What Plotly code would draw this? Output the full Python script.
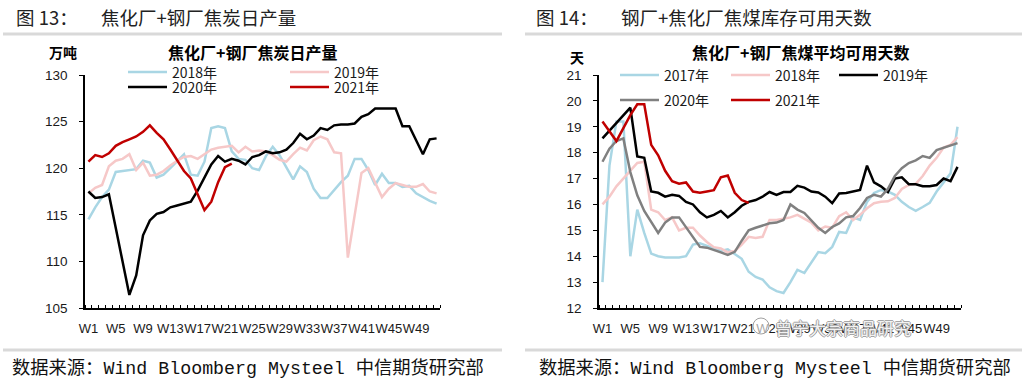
import plotly.graph_objects as go

W, H = 1028, 383

# ---------------- data ----------------
weeks = list(range(1, 53))
week_tick_vals = [1, 5, 9, 13, 17, 21, 25, 29, 33, 37, 41, 45, 49]
week_tick_labels = ["W1", "W5", "W9", "W13", "W17", "W21", "W25", "W29", "W33", "W37", "W41", "W45", "W49"]

# Left chart: coke daily output (万吨)
coke_2018 = [114.5, 115.8, 116.9, 117.7, 119.6, 119.7, 119.8, 119.9, 120.8, 120.6, 119.0, 119.3, 120.0,
             120.7, 121.5, 119.3, 119.2, 120.7, 124.3, 124.5, 124.3, 121.8, 121.0, 120.9, 120.0, 119.8,
             121.3, 122.3, 121.4, 120.1, 118.8, 120.2, 119.6, 117.8, 116.8, 116.8, 117.7, 118.5, 119.2,
             121.0, 121.0, 119.8, 118.2, 119.4, 118.4, 118.4, 118.0, 118.1, 117.3, 116.9, 116.5, 116.2]
coke_2019 = [117.3, 117.9, 118.2, 120.2, 120.8, 121.0, 121.5, 119.8, 120.6, 119.2, 119.3, 119.7, 120.3,
             120.8, 121.2, 121.3, 121.0, 121.5, 122.0, 122.2, 122.3, 122.4, 121.7, 122.3, 121.8, 121.9,
             121.8, 121.4, 120.9, 120.7, 121.5, 122.2, 121.9, 123.0, 123.4, 123.1, 121.7, 121.6, 110.4,
             115.0, 119.5, 120.0, 118.5, 116.9, 117.8, 118.4, 118.2, 118.0, 118.0, 118.3, 117.5, 117.3]
coke_2020 = [117.5, 116.8, 116.9, 117.2, 113.6, 110.0, 106.4, 108.5, 112.8, 114.4, 115.1, 115.3, 115.8,
             116.0, 116.2, 116.4, 117.6, 119.0, 120.4, 121.3, 120.7, 121.0, 120.8, 120.4, 121.2, 121.4,
             121.8, 121.6, 121.7, 122.0, 122.7, 123.7, 123.1, 123.5, 124.3, 124.1, 124.6, 124.7, 124.7,
             124.8, 125.5, 125.8, 126.4, 126.4, 126.4, 126.4, 124.5, 124.5, 123.0, 121.5, 123.1, 123.2]
coke_2021 = [120.7, 121.4, 121.2, 121.6, 122.4, 122.8, 123.1, 123.4, 123.9, 124.6, 123.8, 123.1, 122.0,
             120.9, 119.7, 118.9, 117.2, 115.5, 116.4, 118.5, 120.1, 120.5]

# Right chart: coking coal available days (天)
days_2017 = [13.0, 17.5, 19.2, 19.2, 14.0, 15.8, 14.9, 14.1, 14.0, 13.95, 13.95, 13.95, 14.0, 14.45,
             14.5, 14.4, 14.3, 14.2, 14.27, 14.1, 13.9, 13.4, 13.2, 13.1, 12.8, 12.65, 12.58, 13.0,
             13.47, 13.35, 13.75, 14.16, 14.12, 14.36, 14.94, 14.9, 15.5, 15.4, 16.1, 16.44, 16.56,
             16.5, 16.37, 16.1, 15.9, 15.75, 15.9, 16.06, 16.5, 16.87, 17.2, 19.0]
days_2018 = [16.0, 16.3, 16.7, 17.0, 17.3, 17.6, 17.65, 15.8, 15.7, 15.4, 15.5, 15.0, 15.1, 15.1, 14.8,
             14.55, 14.35, 14.3, 14.15, 14.2, 14.45, 14.75, 14.7, 14.75, 15.4, 15.4, 15.45, 15.5, 15.6,
             15.45, 15.3, 15.0, 15.15, 15.1, 15.55, 15.7, 15.4, 15.6, 15.85, 16.05, 16.1, 16.12, 16.25,
             16.6, 16.75, 16.8, 17.1, 17.5, 17.8, 18.2, 18.3, 18.6]
days_2019 = [18.55, 18.85, 19.15, 19.45, 19.74, 17.85, 17.8, 16.5, 16.45, 16.3, 16.37, 16.33, 16.1, 16.0,
             15.7, 15.5, 15.6, 15.75, 15.5, 15.7, 15.95, 16.1, 16.17, 16.3, 16.48, 16.37, 16.48, 16.48,
             16.72, 16.65, 16.5, 16.46, 16.3, 16.05, 16.42, 16.44, 16.5, 16.56, 17.5, 16.85, 16.7, 16.48,
             17.0, 17.05, 16.78, 16.78, 16.7, 16.7, 16.75, 17.0, 16.9, 17.45]
days_2020 = [17.65, 18.15, 18.45, 18.55, 17.25, 16.35, 15.75, 15.3, 14.9, 15.3, 15.5, 15.5, 15.13, 14.75,
             14.36, 14.33, 14.25, 14.15, 14.05, 14.17, 14.6, 15.0, 15.1, 15.2, 15.27, 15.3, 15.4, 16.0,
             15.8, 15.67, 15.4, 15.1, 14.9, 15.13, 15.27, 15.5, 15.55, 15.86, 16.25, 16.37, 16.3, 16.6,
             17.1, 17.4, 17.6, 17.7, 17.87, 17.8, 18.1, 18.2, 18.3, 18.37]
days_2021 = [19.2, 18.8, 18.45, 18.95, 19.45, 19.87, 19.87, 18.3, 17.9, 17.3, 16.9, 16.8, 16.85, 16.5,
             16.45, 16.5, 16.55, 17.05, 17.12, 16.45, 16.17, 16.06]

left_names = ["2018年", "2019年", "2020年", "2021年"]
right_names = ["2017年", "2018年", "2019年", "2020年", "2021年"]

# ---------------- styles ----------------
C_BLUE = "#A9D6E4"
C_PINK = "#F6C8C8"
C_BLACK = "#000000"
C_GREY = "#808080"
C_RED = "#C00000"
LW = 2.5
CJK = "Noto Sans CJK SC"
NUM = "Liberation Sans"


def px(x):
    return x / W


def py(y):
    return 1 - y / H


fig = go.Figure()

left_series = [(coke_2018, C_BLUE), (coke_2019, C_PINK), (coke_2020, C_BLACK), (coke_2021, C_RED)]
for (vals, col), name in zip(left_series, left_names):
    fig.add_trace(go.Scatter(x=weeks[:len(vals)], y=vals, mode="lines", name=name,
                             line=dict(color=col, width=LW), xaxis="x", yaxis="y",
                             showlegend=False, hoverinfo="skip"))

right_series = [(days_2017, C_BLUE), (days_2018, C_PINK), (days_2019, C_BLACK),
                (days_2020, C_GREY), (days_2021, C_RED)]
for (vals, col), name in zip(right_series, right_names):
    fig.add_trace(go.Scatter(x=weeks[:len(vals)], y=vals, mode="lines", name=name,
                             line=dict(color=col, width=LW), xaxis="x2", yaxis="y2",
                             showlegend=False, hoverinfo="skip"))


def xaxis_cfg(x0, x1, anchor):
    return dict(domain=[px(x0), px(x1)], range=[0.5, 52.5], anchor=anchor, automargin=False,
                tickmode="array", tickvals=week_tick_vals, ticktext=week_tick_labels,
                ticks="", tickangle=0, showline=True, linecolor="black", linewidth=1.5,
                showgrid=False, zeroline=False, ticklabelstandoff=8,
                tickfont=dict(family=NUM, size=13, color="#1a1a1a"),
                minor=dict(ticks="inside", tickmode="linear", tick0=0.5, dtick=1,
                           ticklen=3, tickwidth=1, tickcolor="black", showgrid=False))


def yaxis_cfg(y_top, y_bot, rng, dtick, anchor):
    return dict(domain=[py(y_bot), py(y_top)], range=rng, dtick=dtick, anchor=anchor, automargin=False,
                ticks="outside", ticklen=4, tickwidth=1, tickcolor="black",
                showline=True, linecolor="black", linewidth=1.5, showgrid=False, zeroline=False,
                ticklabelstandoff=9, tickfont=dict(family=NUM, size=13.5, color="#1a1a1a"))


fig.update_layout(
    width=W, height=H, margin=dict(l=0, r=0, t=0, b=0, autoexpand=False),
    paper_bgcolor="white", plot_bgcolor="white", showlegend=False,
    xaxis=xaxis_cfg(85, 440, "y"),
    yaxis=yaxis_cfg(75, 308, [105, 130], 5, "x"),
    xaxis2=xaxis_cfg(599, 961, "y2"),
    yaxis2=yaxis_cfg(75, 308, [12, 21], 1, "x2"),
)

ann = []
shapes = []


def text(x, y, s, size, xanchor="left", color="#1a1a1a", family=CJK, **kw):
    ann.append(dict(x=px(x), y=py(y), xref="paper", yref="paper", text=s, showarrow=False,
                    xanchor=xanchor, yanchor="middle", font=dict(family=family, size=size, color=color), **kw))


# figure headers
text(14, 17, "图 13：", 18.5, color="#222")
text(99, 17, "焦化厂+钢厂焦炭日产量", 18.5, color="#222")
text(534, 17, "图 14：", 18.5, color="#222")
text(619, 17, "钢厂+焦化厂焦煤库存可用天数", 18.5, color="#222")
for x0, x1 in [(3, 502), (525, 1022)]:
    shapes.append(dict(type="line", xref="paper", yref="paper", x0=px(x0), x1=px(x1), y0=py(34), y1=py(34),
                       line=dict(color="#D9D9D9", width=3)))
    shapes.append(dict(type="line", xref="paper", yref="paper", x0=px(x0), x1=px(x1), y0=py(350), y1=py(350),
                       line=dict(color="#D9D9D9", width=3)))

# chart titles and units
text(252, 52, "<b>焦化厂+钢厂焦炭日产量</b>", 16, xanchor="center", color="#000")
text(63, 52, "<b>万吨</b>", 14, xanchor="center", color="#000")
text(800, 52, "<b>焦化厂+钢厂焦煤平均可用天数</b>", 16, xanchor="center", color="#000")
text(577, 57, "<b>天</b>", 14, xanchor="center", color="#000")

# manual legends
left_leg_pos = [(128, 72), (290, 72), (128, 87), (290, 87)]
for (x, y), name, (_, col) in zip(left_leg_pos, left_names, left_series):
    shapes.append(dict(type="line", xref="paper", yref="paper", x0=px(x), x1=px(x + 39), y0=py(y), y1=py(y),
                       line=dict(color=col, width=2.5)))
    text(x + 42, y, name, 14, color="#1a1a1a")

right_leg_pos = [(620, 75), (731, 75), (839, 75), (620, 100), (731, 100)]
for (x, y), name, (_, col) in zip(right_leg_pos, right_names, right_series):
    shapes.append(dict(type="line", xref="paper", yref="paper", x0=px(x), x1=px(x + 39), y0=py(y), y1=py(y),
                       line=dict(color=col, width=2.5)))
    text(x + 42, y, name, 14, color="#1a1a1a")

# footers
src = "数据来源：<span style=\"font-family:'Liberation Mono'\">Wind Bloomberg Mysteel </span>中信期货研究部"
text(10, 366, src, 18.3, color="#111")
text(537, 366, src, 18.3, color="#111")

# watermark
text(773, 327, "曾宁大宗商品研究", 17, color="rgba(255,255,255,0.9)")
ann[-1]["font"]["shadow"] = "1px 0 0 #9a9a9a, -1px 0 0 #9a9a9a, 0 1px 0 #9a9a9a, 0 -1px 0 #9a9a9a"
shapes.append(dict(type="circle", xref="paper", yref="paper", x0=px(753), x1=px(769), y0=py(334), y1=py(318),
                   line=dict(color="#a0a0a0", width=1), fillcolor="rgba(255,255,255,0.6)"))

fig.update_layout(annotations=ann, shapes=shapes)
fig.write_html("out.html", config={"displayModeBar": False},
               post_script="document.body.style.margin='0px';document.body.style.overflow='hidden';")
